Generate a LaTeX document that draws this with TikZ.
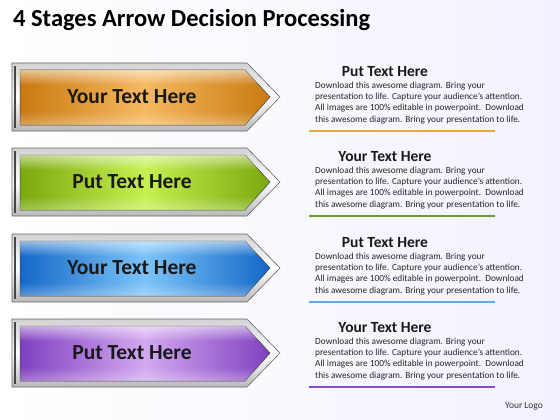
\documentclass[tikz,border=0pt]{standalone}
\usepackage{fontspec}
\setmainfont{Carlito}
\usetikzlibrary{calc,fadings}
\definecolor{oD}{HTML}{C97A10}\definecolor{oL}{HTML}{F6B860}\definecolor{oU}{HTML}{E9A93A}
\definecolor{gD}{HTML}{7AA80E}\definecolor{gL}{HTML}{C6F050}\definecolor{gU}{HTML}{6E9A2C}
\definecolor{bD}{HTML}{1468C8}\definecolor{bL}{HTML}{7CC4F8}\definecolor{bU}{HTML}{5AACE2}
\definecolor{pD}{HTML}{8040C0}\definecolor{pL}{HTML}{D2A8F0}\definecolor{pU}{HTML}{8A4CC0}
\tikzset{
  frame/.style={draw=gray!80!black,line width=0.6pt,top color=gray!35,bottom color=gray!55,middle color=white},
  arrowtext/.style={font=\bfseries\fontsize{21.5}{24}\selectfont,text=black!90},
  headtext/.style={font=\bfseries\fontsize{15.5}{18}\selectfont,text=black!90},
  bodytext/.style={font=\fontsize{9.3}{11.3}\selectfont,text=black!85,align=left,anchor=north west,inner sep=0pt},
  uline/.style={line width=1.3pt},
}
\newcommand{\drawstage}[7]{%
  \path[frame] (12,#1-34) -- (247,#1-34) -- (280,#1) -- (247,#1+34) -- (12,#1+34) -- cycle;
  \draw[gray!55!black,line width=2pt] (15,#1-31) -- (15,#1+31);
  \path[draw=gray!50!black,line width=0.5pt,left color=#2,right color=#2,middle color=#3]
    (20,#1-27) -- (245,#1-27) -- (270,#1) -- (245,#1+28) -- (20,#1+28) -- cycle;
  \fill[white,path fading=south,opacity=0.55]
    (20,#1-27) -- (245,#1-27) -- (260,#1-12) -- (20,#1-12) -- cycle;
  \fill[white,path fading=north,opacity=0.3]
    (20,#1+14) -- (259,#1+14) -- (245,#1+28) -- (20,#1+28) -- cycle;
  \node[arrowtext] (a#7) at (132,#1) {#4};
  \node[headtext] (h#7) at (385,#1-25) {#5};
  \node[bodytext] (b#7) at (315,#1-15.5) {Download this awesome diagram. Bring your\\presentation to life. Capture your audience’s attention.\\All images are 100\% editable in powerpoint.\ \ Download\\this awesome diagram. Bring your presentation to life.};
  \coordinate (u#7a) at (309,#1+34);
  \coordinate (u#7b) at (495,#1+34);
  \draw[uline,#6] (u#7a) -- (u#7b);
}
\begin{document}
\begin{tikzpicture}[x=1pt,y=-1pt]
\useasboundingbox (0,0) rectangle (560,420);
\path[left color=white,right color=blue!5!white] (0,0) rectangle (560,420);
\node[anchor=west,font=\bfseries\fontsize{24.5}{28}\selectfont,inner sep=0pt] (title) at (13,20) {4 Stages Arrow Decision Processing};
\drawstage{97}{oD}{oL}{Your Text Here}{Put Text Here}{oU}{1}
\drawstage{182}{gD}{gL}{Put Text Here}{Your Text Here}{gU}{2}
\drawstage{268}{bD}{bL}{Your Text Here}{Put Text Here}{bU}{3}
\drawstage{353}{pD}{pL}{Put Text Here}{Your Text Here}{pU}{4}
\node[font=\fontsize{9.5}{11}\selectfont,text=black!80] (logo) at (524,406) {Your Logo};
\end{tikzpicture}
\end{document}
